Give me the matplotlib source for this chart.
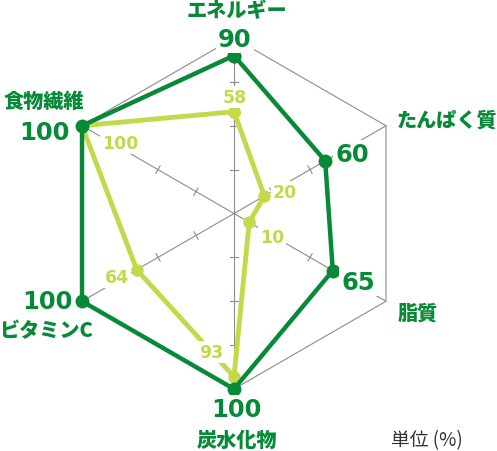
import numpy as np
import matplotlib
matplotlib.use('Agg')
import matplotlib.pyplot as plt

# axes, clockwise from the top
categories = ['エネルギー', 'たんぱく質', '脂質', '炭水化物', 'ビタミンC', '食物繊維']
dark_values = [90, 60, 65, 100, 100, 100]
light_values = [58, 20, 10, 93, 64, 100]
unit_label = '単位 (%)'

DARK = '#078a37'
LIGHT = '#c3d94a'
GRID = '#8c8c8c'

W, H = 497, 452
CX, CY = 234, 214.5      # chart centre, pixels from top-left
SCALE = 1.755            # pixels per percent

angles = np.deg2rad([90, 30, -30, -90, -150, 150])


def xy(values):
    v = np.asarray(values, dtype=float)
    return v * np.cos(angles), v * np.sin(angles)


def fig_pos(px, py):
    return px / W, 1 - py / H


fig = plt.figure(figsize=(W / 100, H / 100), dpi=100)
ax = fig.add_axes([0, 0, 1, 1])
ax.set_xlim(-CX / SCALE, (W - CX) / SCALE)
ax.set_ylim(-(H - CY) / SCALE, CY / SCALE)
ax.axis('off')

# grid: outer hexagon, spokes, tick marks at 25 / 50 / 75
ox, oy = xy([100] * 6)
ax.plot(np.append(ox, ox[0]), np.append(oy, oy[0]), color=GRID, lw=0.8, zorder=1)
for a in angles:
    ax.plot([0, 100 * np.cos(a)], [0, 100 * np.sin(a)], color=GRID, lw=0.8, zorder=1)
    for r in (25, 50, 75):
        px, py = -np.sin(a) * 2.4, np.cos(a) * 2.4
        bx, by = r * np.cos(a), r * np.sin(a)
        ax.plot([bx - px, bx + px], [by - py, by + py], color=GRID, lw=0.8, zorder=1)

lx, ly = xy(light_values)
ax.plot(np.append(lx, lx[0]), np.append(ly, ly[0]), color=LIGHT, lw=3.5,
        marker='o', markersize=8, solid_joinstyle='round', zorder=3)
dx, dy = xy(dark_values)
ax.plot(np.append(dx, dx[0]), np.append(dy, dy[0]), color=DARK, lw=3.2,
        marker='o', markersize=9, solid_joinstyle='round', zorder=4)

box = dict(facecolor='white', edgecolor='none', pad=1.5)
cat_font = dict(family=['Noto Sans CJK JP', 'DejaVu Sans'], fontweight='heavy',
                fontsize=14.5, color=DARK)

# category labels (pixel positions)
cat_pos = [(237, 11, 'center'), (397, 121, 'left'), (398, 314, 'left'),
           (237, 441, 'center'), (46, 331, 'center'), (44, 102, 'center')]
for name, (px, py, ha) in zip(categories, cat_pos):
    fig.text(*fig_pos(px, py), name, ha=ha, va='center', **cat_font)

dark_pos = [(235, 40), (352, 155), (358, 283), (236, 410), (47, 302), (44, 133)]
for v, (px, py) in zip(dark_values, dark_pos):
    fig.text(*fig_pos(px, py), str(v), ha='center', va='center', fontsize=17.5,
             fontweight='bold', color=DARK, bbox=box, zorder=5)

light_pos = [(235, 98), (285, 193), (272, 238), (211, 353), (117, 278), (120, 144)]
for v, (px, py) in zip(light_values, light_pos):
    fig.text(*fig_pos(px, py), str(v), ha='center', va='center', fontsize=12.5,
             fontweight='bold', color=LIGHT, bbox=box, zorder=5)

fig.text(*fig_pos(427, 441), unit_label, ha='center', va='center', fontsize=13.5,
         family=['Noto Sans CJK JP', 'DejaVu Sans'], color='#333333')

fig.savefig('out.png', dpi=100, facecolor='white')
plt.close(fig)
